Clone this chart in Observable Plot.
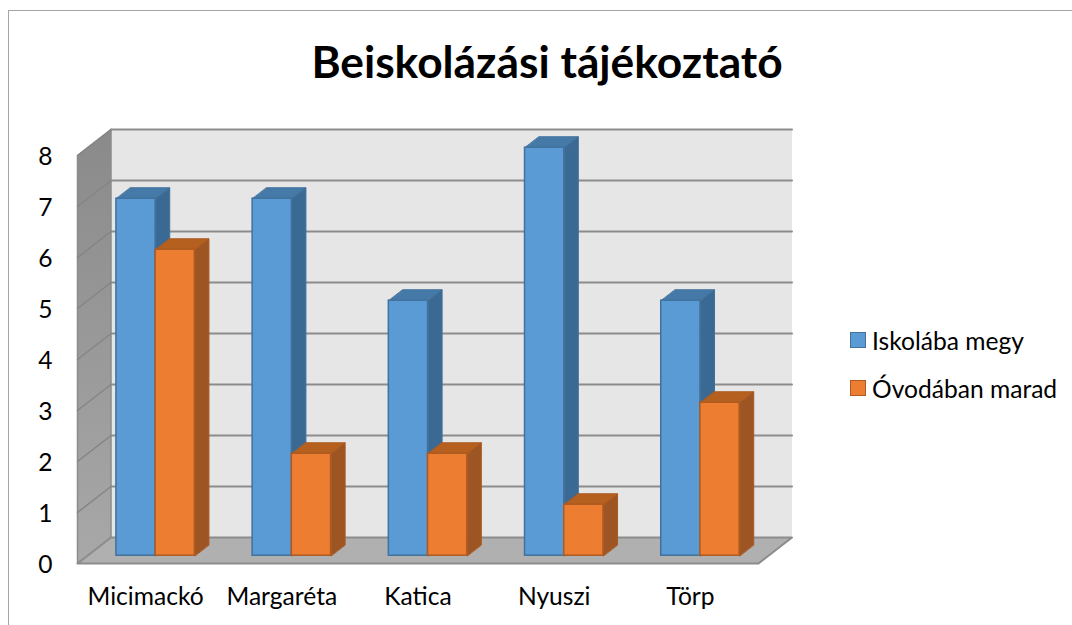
<!DOCTYPE html>
<html><head><meta charset="utf-8">
<script src="https://cdn.jsdelivr.net/npm/d3@7"></script>
<script src="https://cdn.jsdelivr.net/npm/@observablehq/plot@0.6"></script>
<style>
html,body{margin:0;padding:0;background:#fff;overflow:hidden}
#page{position:relative;width:1072px;height:625px;font-family:Lato,sans-serif;color:#000;overflow:hidden}
#frame{position:absolute;left:8px;top:10px;width:1080px;height:640px;border-left:1.5px solid #a6a6a6;border-top:1.5px solid #a6a6a6}
#title{position:absolute;left:8px;width:1078px;top:36px;text-align:center;font-size:44.3px;font-weight:700;line-height:50px;margin:0}
#chart{position:absolute;left:0;top:100px}
#chart svg{display:block;background:transparent}
#legend{position:absolute;left:850px;top:316px;font-size:24.6px}
.item{display:flex;align-items:center;height:48px;white-space:nowrap}
.sw{width:14px;height:14px;border:1px solid;margin-right:6px;flex:none}
</style></head>
<body><div id="page">
<div id="frame"></div>
<h1 id="title"></h1>
<div id="chart"></div>
<div id="legend"></div>
</div>
<script>
const titleText = "Beiskolázási tájékoztató";
const categories = ["Micimackó", "Margaréta", "Katica", "Nyuszi", "Törp"];
const seriesNames = ["Iskolába megy", "Óvodában marad"];
const iskolaba = [7, 7, 5, 8, 5];
const ovodaban = [6, 2, 2, 1, 3];
const valueTicks = [0, 1, 2, 3, 4, 5, 6, 7, 8];

const frontColors = ["#5b9bd5", "#ed7d31"];
const edgeColors = ["#41719c", "#ae5a21"];
const topColors = ["#457aa8", "#b5601f"];
const sideColors = ["#3a6a94", "#9c5523"];

// Oblique depth: depth 1 is the back wall, in units of the x and y scales.
const depthX = 0.246, depthY = 0.51;
const px = (c, d) => c + d * depthX;
const py = (v, d) => v + d * depthY;
const P = (c, v, d) => ({x: px(c, d), y: py(v, d)});

const barW = 0.288, gap = (1 - 2 * barW) / 2, dFront = 0.3, dBack = 0.72;
const series = [iskolaba, ovodaban];

function faces(s) {
  const out = [];
  series[s].forEach((v, i) => {
    const c0 = i + gap + s * barW, c1 = c0 + barW;
    const top = [P(c0, v, dFront), P(c1, v, dFront), P(c1, v, dBack), P(c0, v, dBack)];
    const side = [P(c1, 0, dFront), P(c1, v, dFront), P(c1, v, dBack), P(c1, 0, dBack)];
    top.forEach(p => out.push({...p, id: `t${i}`}));
    side.forEach(p => out.push({...p, id: `s${i}`}));
  });
  return out;
}
function fronts(s) {
  return series[s].map((v, i) => {
    const c0 = i + gap + s * barW;
    return {x1: px(c0, dFront), x2: px(c0 + barW, dFront), y1: py(0, dFront), y2: py(v, dFront)};
  });
}
function barMarks(s) {
  const f = faces(s);
  return [
    Plot.line(f.filter(d => d.id[0] === "t"), {x: "x", y: "y", z: "id", curve: "linear-closed", fill: topColors[s], stroke: edgeColors[s], strokeWidth: 1}),
    Plot.line(f.filter(d => d.id[0] === "s"), {x: "x", y: "y", z: "id", curve: "linear-closed", fill: sideColors[s], stroke: edgeColors[s], strokeWidth: 1}),
    Plot.rect(fronts(s), {x1: "x1", x2: "x2", y1: "y1", y2: "y2", fill: frontColors[s], stroke: edgeColors[s], strokeWidth: 1.5})
  ];
}

const backWall = [P(0,0,1), P(5,0,1), P(5,8,1), P(0,8,1)];
const sideWall = [P(0,0,0), P(0,8,0), P(0,8,1), P(0,0,1)];
const floor3d = [P(0,0,0), P(5,0,0), P(5,0,1), P(0,0,1)];
const gridBack = valueTicks.slice(1).flatMap(v => [{...P(0,v,1), id:v}, {...P(5,v,1), id:v}]);
const gridSide = valueTicks.slice(1).flatMap(v => [{...P(0,v,0), id:v}, {...P(0,v,1), id:v}]);

const plot = Plot.plot({
  width: 800, height: 525,
  marginLeft: 77, marginRight: 42, marginTop: 55, marginBottom: 62,
  x: {domain: [0, 5], axis: null},
  y: {domain: [0, 8], axis: null},
  marks: [
    () => {
      const defs = d3.create("svg:defs");
      const g = defs.append("linearGradient").attr("id", "wallGrad").attr("x1", 0).attr("x2", 0).attr("y1", 0).attr("y2", 1);
      g.append("stop").attr("offset", "0%").attr("stop-color", "#8a8a8a");
      g.append("stop").attr("offset", "100%").attr("stop-color", "#a8a8a8");
      return defs.node();
    },
    Plot.line(backWall, {x:"x", y:"y", curve:"linear-closed", fill:"#e6e6e6", stroke:"none"}),
    Plot.line(sideWall, {x:"x", y:"y", curve:"linear-closed", fill:"url(#wallGrad)", stroke:"#8c8c8c", strokeWidth:1.5}),
    Plot.line(floor3d, {x:"x", y:"y", curve:"linear-closed", fill:"#b0b0b0", stroke:"#8c8c8c", strokeWidth:2}),
    Plot.line(gridBack, {x:"x", y:"y", z:"id", stroke:"#8c8c8c", strokeWidth:2}),
    Plot.line(gridSide, {x:"x", y:"y", z:"id", stroke:"#858585", strokeWidth:1.5}),
    ...barMarks(0),
    ...barMarks(1),
    Plot.axisY({ticks: valueTicks, tickSize: 0, tickPadding: 25, fontSize: 24.6, fill:"#000", label: null, fontFamily:"Lato", dy: 2}),
    Plot.axisX({ticks: categories.map((_, i) => i + 0.5), tickFormat: t => categories[t - 0.5], tickSize: 0, tickPadding: 24, fontSize: 24.6, fill:"#000", label: null, fontFamily:"Lato"})
  ]
});
plot.style.overflow = "visible";
document.getElementById("chart").append(plot);
document.getElementById("title").textContent = titleText;
document.getElementById("legend").innerHTML = seriesNames.map((n, i) =>
  `<div class="item"><span class="sw" style="background:${frontColors[i]};border-color:${edgeColors[i]}"></span>${n}</div>`).join("");
</script>
</body></html>
